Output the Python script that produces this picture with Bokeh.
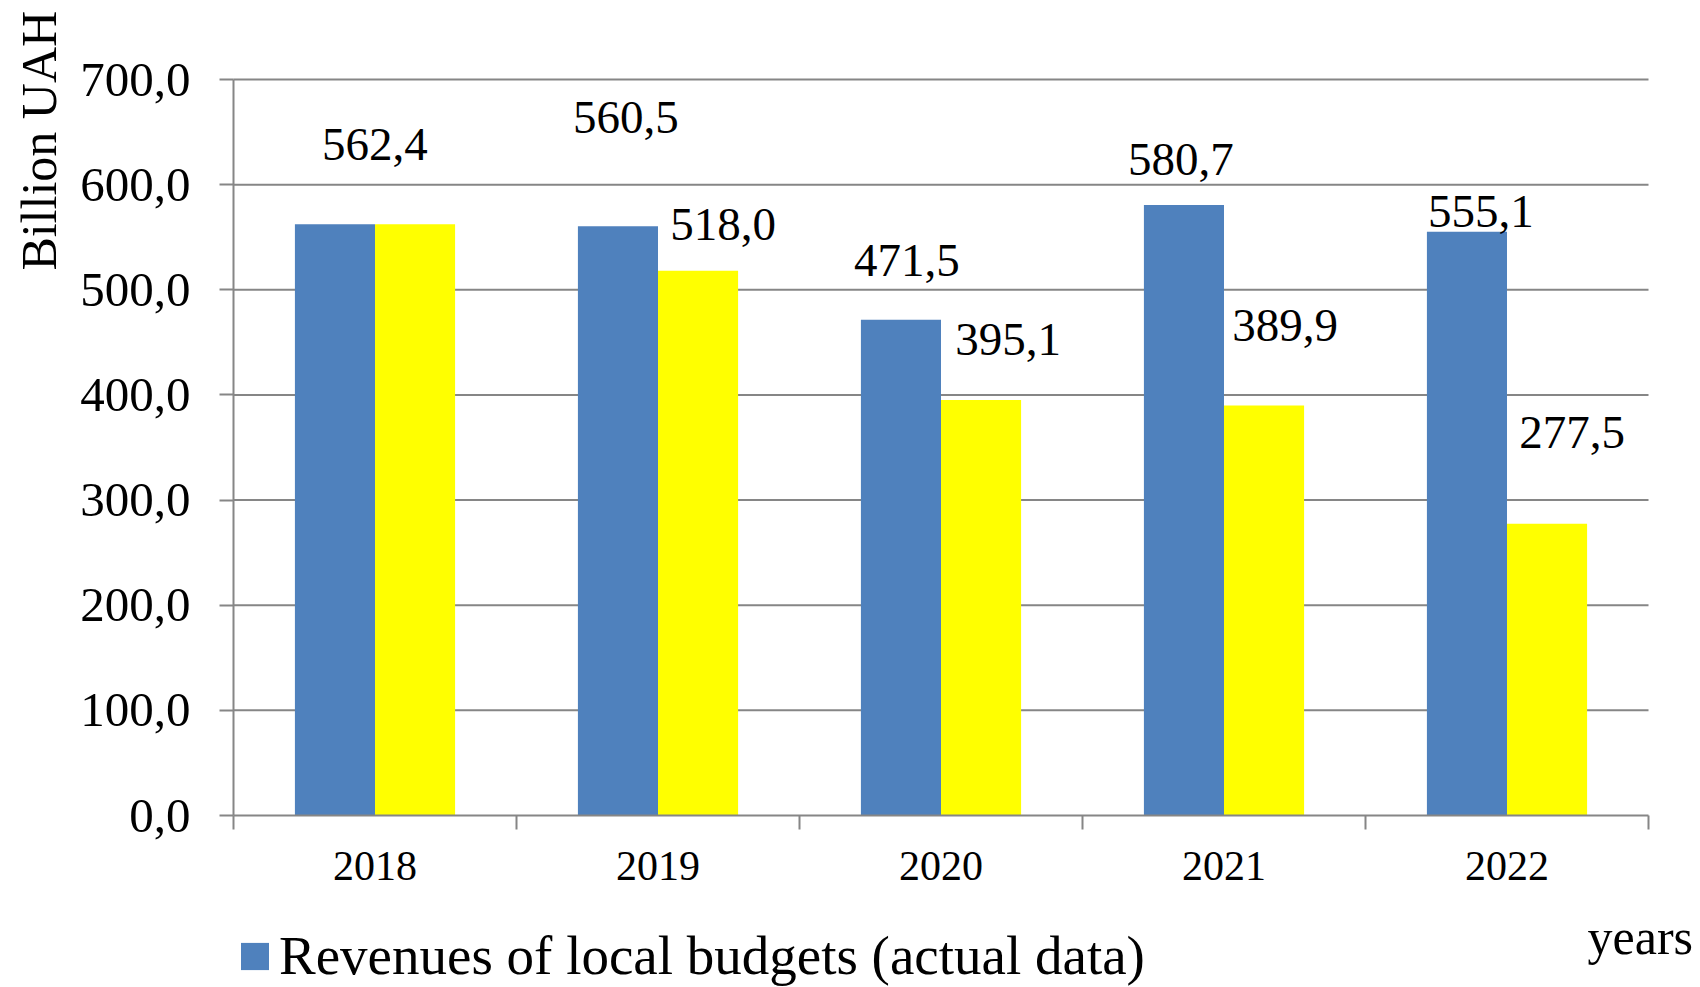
import math
from bokeh.plotting import figure
from bokeh.models import Range1d, FixedTicker, Label, ColumnDataSource
from bokeh.core.properties import value
from bokeh.embed import file_html
from bokeh.resources import INLINE

# ---- data ----
years = ["2018", "2019", "2020", "2021", "2022"]
revenues_actual = [562.4, 560.5, 471.5, 580.7, 555.1]
revenues_second = [562.4, 518.0, 395.1, 389.9, 277.5]
second_label_shown = [False, True, True, True, True]
y_ticks = [0, 100, 200, 300, 400, 500, 600, 700]

# ---- style / label placement (pixels) ----
blue_label_dx = [40, 8, 6, -3, 14]
blue_label_dy = [80, 109, 59, 45, 20]
yellow_label_dx = [0, 25, 27, 21, 25]
yellow_label_dy = [0, 46, 61, 80, 91]

FONT = "Liberation Serif"
BLUE = "#4F81BD"
YELLOW = "#FFFF00"
GRID = "#868686"
BAR_W = 0.283

W, H = 1700, 987
AX_L, AX_R, AX_T, AX_B = 233, 1648, 79, 815     # axis box in canvas pixels

n = len(years)
ymax = y_ticks[-1]
px_x = (AX_R - AX_L) / n
px_y = (AX_B - AX_T) / ymax

def fmt(v):
    return f"{v:.1f}".replace(".", ",")

idx = list(range(n))
blue_x = [i + 0.5 - BAR_W / 2 for i in idx]
yellow_x = [i + 0.5 + BAR_W / 2 for i in idx]

src_blue = ColumnDataSource(dict(x=blue_x, top=revenues_actual))
src_yellow = ColumnDataSource(dict(x=yellow_x, top=revenues_second))

p = figure(width=W, height=H, output_backend="svg", toolbar_location=None,
           x_range=Range1d(-AX_L / px_x, n + (W - AX_R) / px_x),
           y_range=Range1d(-(H - AX_B) / px_y, ymax + AX_T / px_y),
           min_border=0)
p.outline_line_color = None
p.background_fill_color = "white"
p.xgrid.visible = False
p.ygrid.visible = False

# horizontal grid lines across the category span
grid_src = ColumnDataSource(dict(y=y_ticks[1:], x0=[0] * (len(y_ticks) - 1),
                                 x1=[n] * (len(y_ticks) - 1)))
p.segment(x0="x0", x1="x1", y0="y", y1="y", source=grid_src,
          line_color=GRID, line_width=2)

p.vbar(x="x", top="top", width=BAR_W, bottom=0, source=src_blue,
       fill_color=BLUE, line_color=None,
       legend_label="Revenues of local budgets (actual data)")
p.vbar(x="x", top="top", width=BAR_W, bottom=0, source=src_yellow,
       fill_color=YELLOW, line_color=None)

# data labels
lab_x, lab_y, lab_t, lab_dx, lab_dy = [], [], [], [], []
for i in idx:
    lab_x.append(blue_x[i]); lab_y.append(revenues_actual[i])
    lab_t.append(fmt(revenues_actual[i]))
    lab_dx.append(blue_label_dx[i]); lab_dy.append(-blue_label_dy[i])
    if second_label_shown[i]:
        lab_x.append(yellow_x[i]); lab_y.append(revenues_second[i])
        lab_t.append(fmt(revenues_second[i]))
        lab_dx.append(yellow_label_dx[i]); lab_dy.append(-yellow_label_dy[i])
src_lab = ColumnDataSource(dict(x=lab_x, y=lab_y, text=lab_t, dx=lab_dx, dy=lab_dy))
p.text(x="x", y="y", text="text", x_offset="dx", y_offset="dy", source=src_lab,
       text_font=value(FONT), text_font_size="47px", text_color="black",
       text_align="center", text_baseline="middle")

# y axis (fixed at x = 0)
yax = p.yaxis[0]
yax.fixed_location = 0
yax.bounds = (0, ymax)
yax.ticker = FixedTicker(ticks=y_ticks, minor_ticks=[])
yax.major_label_overrides = {t: fmt(t) for t in y_ticks}
yax.major_label_text_font = FONT
yax.major_label_text_font_size = "49px"
yax.major_label_text_color = "black"
yax.major_tick_out = 14
yax.major_tick_in = 0
yax.major_label_standoff = 29
yax.axis_line_color = GRID
yax.axis_line_width = 2
yax.major_tick_line_color = GRID
yax.major_tick_line_width = 2

# x axis (fixed at y = 0)
xax = p.xaxis[0]
xax.fixed_location = 0
xax.bounds = (0, n)
centers = [i + 0.5 for i in idx]
xax.ticker = FixedTicker(ticks=centers, minor_ticks=list(range(n + 1)))
xax.major_label_overrides = {c: y for c, y in zip(centers, years)}
xax.major_label_text_font = FONT
xax.major_label_text_font_size = "42px"
xax.major_label_text_color = "black"
xax.major_tick_out = 0
xax.major_tick_in = 0
xax.minor_tick_out = 14
xax.minor_tick_in = 0
xax.minor_tick_line_color = GRID
xax.minor_tick_line_width = 2
xax.major_label_standoff = 22
xax.axis_line_color = GRID
xax.axis_line_width = 2

# axis title & unit label
p.add_layout(Label(x=(38 - AX_L) / px_x, y=(AX_B - 134) / px_y,
                   text="Billion  UAH", angle=math.pi / 2,
                   text_font=FONT, text_font_size="50px", text_color="black",
                   text_align="center", text_baseline="middle"))
p.add_layout(Label(x=(1587 - AX_L) / px_x, y=(AX_B - 936) / px_y,
                   text="years",
                   text_font=FONT, text_font_size="50px", text_color="black",
                   text_align="left", text_baseline="alphabetic"))

# legend
leg = p.legend[0]
leg.location = (237, 0)
leg.orientation = "horizontal"
leg.label_text_font = FONT
leg.label_text_font_size = "55px"
leg.label_text_color = "black"
leg.glyph_width = 35
leg.glyph_height = 34
leg.label_standoff = 7
leg.padding = 0
leg.margin = 0
leg.spacing = 0
leg.border_line_color = None
leg.background_fill_alpha = 0

open("out.html", "w").write(file_html(p, INLINE))
